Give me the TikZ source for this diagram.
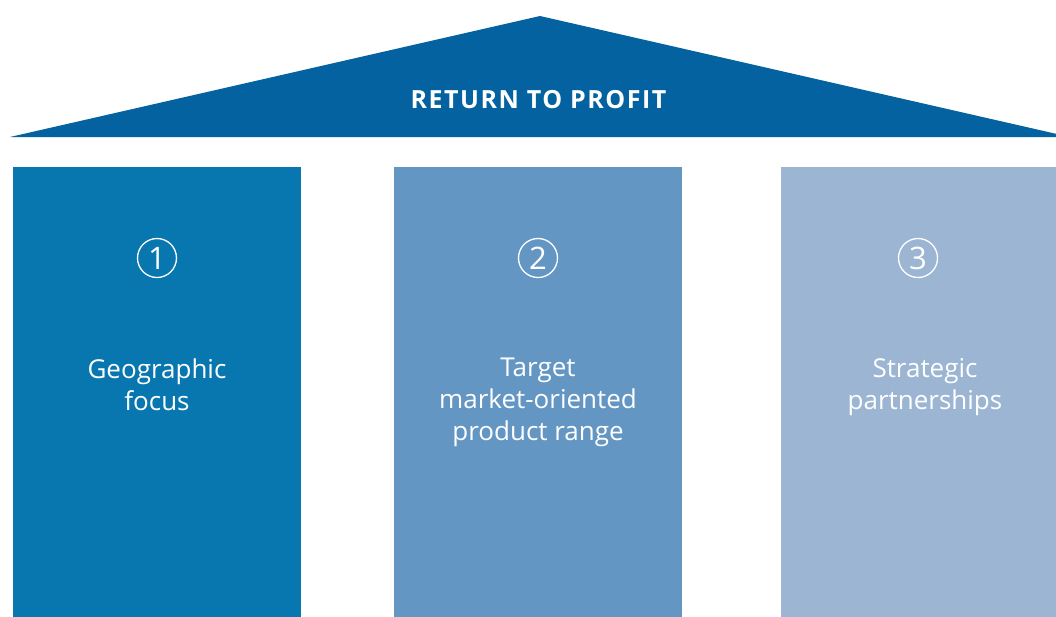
\documentclass[tikz,border=0pt]{standalone}
\usepackage{fontspec}
\setmainfont{Open Sans}
\usetikzlibrary{positioning}
\definecolor{roofblue}{HTML}{03629F}
\definecolor{pillarone}{HTML}{0877B0}
\definecolor{pillartwo}{HTML}{6496C4}
\definecolor{pillarthree}{HTML}{9BB5D3}
\tikzset{every picture/.style={line width=0.75pt}}
\tikzset{
  pillartext/.style={text=white, font=\fontsize{26}{32}\selectfont, align=center, inner sep=0pt, anchor=north},
  pillarnum/.style={circle, draw=white, line width=1.3pt, minimum size=39pt, inner sep=0pt, text=white, font=\fontsize{31}{31}\selectfont},
}

\begin{document}
\begin{tikzpicture}[x=1pt,y=-1pt]
    \useasboundingbox (0,0) rectangle (1056,616);

    % === Roof ===
    \fill[roofblue] (10,137) -- (540,16) -- (1070,137) -- cycle;
    \node[anchor=base, inner sep=0pt, text=white, font=\bfseries\fontsize{25}{28}\selectfont\addfontfeature{LetterSpace=6}] (roof) at (538.5,108) {RETURN TO PROFIT};

    % === Pillars ===
    \fill[pillarone] (13,167) rectangle (301,620);
    \fill[pillartwo] (394,167) rectangle (682,620);
    \fill[pillarthree] (781,167) rectangle (1069,620);

    % numbers
    \node[pillarnum] (num1) at (157,258) {1};
    \node[pillarnum] (num2) at (538,258) {2};
    \node[pillarnum] (num3) at (918,258) {3};

    % labels
    \node[pillartext] (geo) at (157,358) {Geographic\\focus};
    \node[pillartext] (range) at (538,358) {Target\\market-oriented\\product range};
    \node[pillartext] (partner) at (925,358) {Strategic\\partnerships};
\end{tikzpicture}
\end{document}
